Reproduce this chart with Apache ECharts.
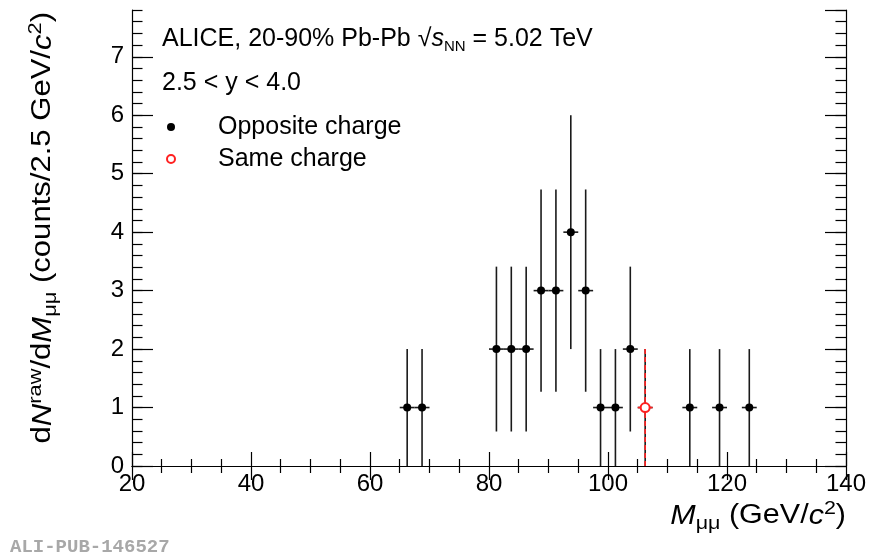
<!DOCTYPE html>
<html>
<head>
<meta charset="utf-8">
<script src="https://cdn.jsdelivr.net/npm/echarts@6/dist/echarts.min.js"></script>
<style>html,body{margin:0;padding:0;background:#fff;}#chart{width:869px;height:553px;}</style>
</head>
<body>
<div id="chart"></div>
<script>
// ---- data ----
const massBins = [66.25, 68.75, 81.25, 83.75, 86.25, 88.75, 91.25, 93.75, 96.25, 98.75, 101.25, 103.75, 106.25, 113.75, 118.75, 123.75];
const oppositeCounts = [1, 1, 2, 2, 2, 3, 3, 4, 3, 1, 1, 2, 1, 1, 1, 1];
const oppositeErrors = [1, 1, 1.41, 1.41, 1.41, 1.73, 1.73, 2, 1.73, 1, 1, 1.41, 1, 1, 1, 1];
const sameMass = [106.25];
const sameCounts = [1];
const sameErrors = [1];
const binHalfWidth = 1.25;
const xTicks = [20, 40, 60, 80, 100, 120, 140];
const yTicks = [0, 1, 2, 3, 4, 5, 6, 7];

const FONT = 'Liberation Sans';
const oppData = massBins.map((m, i) => [m, oppositeCounts[i], oppositeErrors[i]]);
const sameData = sameMass.map((m, i) => [m, sameCounts[i], sameErrors[i]]);

function errRender(color, dash) {
  return function (params, api) {
    const x = api.value(0), y = api.value(1), e = api.value(2);
    const t = api.coord([x, y + e]);
    const b = api.coord([x, y - e]);
    const l = api.coord([x - binHalfWidth, y]);
    const r = api.coord([x + binHalfWidth, y]);
    return {
      type: 'group',
      children: [
        { type: 'line', shape: { x1: t[0], y1: t[1], x2: b[0], y2: b[1] },
          style: { stroke: color, lineWidth: 1.6, lineDash: dash } },
        { type: 'line', shape: { x1: l[0], y1: l[1], x2: r[0], y2: r[1] },
          style: { stroke: color, lineWidth: 1.6 } }
      ]
    };
  };
}

const rich = {
  n: { fontFamily: FONT, fontSize: 27, lineHeight: 34, color: '#000' },
  i: { fontFamily: FONT, fontSize: 27, lineHeight: 34, fontStyle: 'italic', color: '#000' },
  sup: { fontFamily: FONT, fontSize: 19, lineHeight: 14, verticalAlign: 'top', color: '#000' },
  sub: { fontFamily: FONT, fontSize: 19, lineHeight: 18, verticalAlign: 'bottom', color: '#000' }
};
const headRich = {
  n: { fontFamily: FONT, fontSize: 25, lineHeight: 30, color: '#000' },
  sq: { fontFamily: FONT, fontSize: 25, lineHeight: 30, color: '#000' },
  it: { fontFamily: FONT, fontSize: 25, lineHeight: 30, fontStyle: 'italic', color: '#000' },
  sub: { fontFamily: FONT, fontSize: 15, lineHeight: 12, verticalAlign: 'bottom', color: '#000' }
};

const chart = echarts.init(document.getElementById('chart'));
const yMax = 7.8;
const tickLabel = { fontFamily: FONT, fontSize: 24, color: '#000' };

chart.setOption({
  animation: false,
  backgroundColor: '#fff',
  grid: { left: 132, right: 23, top: 10, bottom: 87, containLabel: false },
  title: [
    { left: 162, top: 24, padding: 0,
      text: '{n|ALICE, 20-90% Pb-Pb }{sq|√}{it|s}{sub|NN}{n| = 5.02 TeV}',
      textStyle: { fontFamily: FONT, fontSize: 25, fontWeight: 'normal', lineHeight: 30, color: '#000', rich: headRich } },
    { left: 162, top: 68, padding: 0,
      text: '2.5 < y < 4.0',
      textStyle: { fontFamily: FONT, fontSize: 25, fontWeight: 'normal', lineHeight: 30, color: '#000' } }
  ],
  legend: {
    orient: 'vertical', left: 166, top: 111, padding: 0, itemGap: 0,
    itemWidth: 8, itemHeight: 8,
    data: ['Opposite charge', 'Same charge'],
    formatter: function (name) { return '{sp|}' + name; },
    textStyle: { fontFamily: FONT, fontSize: 25, lineHeight: 32, color: '#000',
      rich: { sp: { width: 38 } } },
    selectedMode: false
  },
  xAxis: [
    { type: 'value', min: xTicks[0], max: xTicks[xTicks.length - 1], interval: 20, position: 'bottom',
      axisLine: { show: true, lineStyle: { color: '#000', width: 1.2 } },
      axisTick: { inside: true, length: 14, lineStyle: { color: '#000', width: 1.2 } },
      minorTick: { show: true, splitNumber: 4, length: 7, lineStyle: { color: '#000', width: 1.2 } },
      axisLabel: Object.assign({ margin: 6 }, tickLabel),
      splitLine: { show: false } },
    { type: 'value', min: xTicks[0], max: xTicks[xTicks.length - 1], interval: 20, position: 'top',
      axisLine: { show: true, lineStyle: { color: '#000', width: 1.2 } },
      axisTick: { inside: true, length: 14, lineStyle: { color: '#000', width: 1.2 } },
      minorTick: { show: true, splitNumber: 4, length: 7, lineStyle: { color: '#000', width: 1.2 } },
      axisLabel: { show: false }, splitLine: { show: false } }
  ],
  yAxis: [
    { type: 'value', min: yTicks[0], max: yMax, interval: 1, position: 'left',
      axisLine: { show: true, lineStyle: { color: '#000', width: 1.2 } },
      axisTick: { inside: true, length: 21, lineStyle: { color: '#000', width: 1.2 } },
      axisLabel: Object.assign({ margin: 8, showMaxLabel: false }, tickLabel),
      splitLine: { show: false } },
    { type: 'value', min: yTicks[0], max: yMax, interval: 1, position: 'right',
      axisLine: { show: true, lineStyle: { color: '#000', width: 1.2 } },
      axisTick: { inside: true, length: 21, lineStyle: { color: '#000', width: 1.2 } },
      axisLabel: { show: false }, splitLine: { show: false } },
    { type: 'value', min: yTicks[0], max: yMax, interval: 0.2, position: 'left',
      axisLine: { show: false },
      axisTick: { inside: true, length: 10.5, lineStyle: { color: '#000', width: 1.2 } },
      axisLabel: { show: false }, splitLine: { show: false } },
    { type: 'value', min: yTicks[0], max: yMax, interval: 0.2, position: 'right',
      axisLine: { show: false },
      axisTick: { inside: true, length: 10.5, lineStyle: { color: '#000', width: 1.2 } },
      axisLabel: { show: false }, splitLine: { show: false } }
  ],
  graphic: [
    { type: 'text', x: 43, y: 12, rotation: Math.PI / 2, scaleX: 1.15,
      style: { text: '{n|d}{i|N}{sup|raw}{n|/d}{i|M}{sub|μμ}{n| (counts/2.5 GeV/}{i|c}{sup|2}{n|)}',
        align: 'right', verticalAlign: 'middle', rich: rich, fontFamily: FONT, fontSize: 27, lineHeight: 34 } },
    { type: 'text', x: 846, y: 516, scaleX: 1.13,
      style: { text: '{i|M}{sub|μμ}{n| (GeV/}{i|c}{sup|2}{n|)}',
        align: 'right', verticalAlign: 'middle', rich: rich, fontFamily: FONT, fontSize: 27, lineHeight: 34 } },
    { type: 'text', x: 10, y: 547,
      style: { text: 'ALI-PUB-146527', align: 'left', verticalAlign: 'middle',
        fontFamily: 'Liberation Mono', fontWeight: 'bold', fontSize: 19, fill: '#a8a8a8' } }
  ],
  series: [
    { name: 'opp-err', type: 'custom', xAxisIndex: 0, yAxisIndex: 0, data: oppData,
      encode: { x: 0, y: 1 }, renderItem: errRender('#1a1a1a', null), z: 2 },
    { name: 'Opposite charge', type: 'scatter', xAxisIndex: 0, yAxisIndex: 0,
      data: oppData.map(d => [d[0], d[1]]), symbol: 'circle', symbolSize: 8,
      itemStyle: { color: '#000', opacity: 1 }, z: 3 },
    { name: 'same-err', type: 'custom', xAxisIndex: 0, yAxisIndex: 0, data: sameData,
      encode: { x: 0, y: 1 }, renderItem: errRender('#ff2020', [5, 3]), z: 4 },
    { name: 'Same charge', type: 'scatter', xAxisIndex: 0, yAxisIndex: 0,
      data: sameData.map(d => [d[0], d[1]]), symbol: 'emptyCircle', symbolSize: 9,
      itemStyle: { color: '#ff2020', borderColor: '#ff2020', borderWidth: 1.5, opacity: 1 }, z: 5 }
  ]
});
</script>
</body>
</html>
